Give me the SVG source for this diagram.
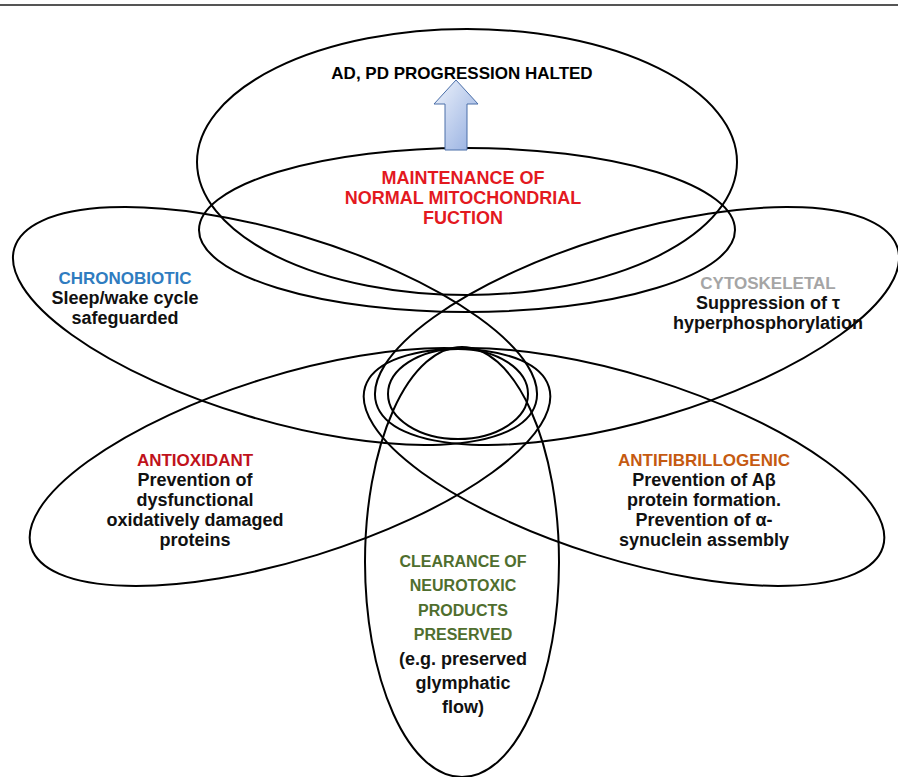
<svg xmlns="http://www.w3.org/2000/svg" width="898" height="777" viewBox="0 0 898 777">
<style>
.e{fill:none;stroke:#000;stroke-width:2}
text{font-family:"Liberation Sans",Arial,sans-serif;font-weight:bold;text-anchor:middle}
.t{font-size:17px}
.b{font-size:18px;fill:#111}
.mito{font-size:18px;fill:#e3191f}
.chr{fill:#2f7cc0}
.cyt{fill:#a5a5a5}
.aox{fill:#c0121b}
.afb{fill:#c55a11}
.clr{font-size:16px;fill:#4f6e2e}
</style>
<defs>
<linearGradient id="ag" x1="0" y1="0" x2="1" y2="1">
<stop offset="0" stop-color="#eef3fb"/>
<stop offset="1" stop-color="#93ade0"/>
</linearGradient>
</defs>
<rect width="898" height="777" fill="#fff"/>
<line x1="0" y1="5" x2="898" y2="5" stroke="#555" stroke-width="2"/>

<g id="node-outcome">
<ellipse class="e" cx="467" cy="162" rx="270" ry="133"/>
<text class="t" x="462" y="79">AD, PD PROGRESSION HALTED</text>
</g>
<g id="node-mitochondrial">
<ellipse class="e" cx="467" cy="230" rx="268" ry="82"/>
<text class="mito" x="463" y="184">MAINTENANCE OF</text>
<text class="mito" x="463" y="204">NORMAL MITOCHONDRIAL</text>
<text class="mito" x="463" y="224">FUCTION</text>
</g>
<g id="node-chronobiotic">
<ellipse class="e" cx="275" cy="326" rx="272" ry="94" transform="rotate(16.6 275 326)"/>
<text class="t chr" x="125" y="284">CHRONOBIOTIC</text>
<text class="b" x="125" y="304">Sleep/wake cycle</text>
<text class="b" x="125" y="324">safeguarded</text>
</g>
<g id="node-cytoskeletal">
<ellipse class="e" cx="637" cy="326" rx="272" ry="94" transform="rotate(-16.6 637 326)"/>
<text class="t cyt" x="768" y="289">CYTOSKELETAL</text>
<text class="b" x="768" y="309">Suppression of τ</text>
<text class="b" x="768" y="329">hyperphosphorylation</text>
</g>
<g id="node-antioxidant">
<ellipse class="e" cx="290" cy="467" rx="271" ry="92" transform="rotate(-17.2 290 467)"/>
<text class="t aox" x="195" y="466">ANTIOXIDANT</text>
<text class="b" x="195" y="486">Prevention of</text>
<text class="b" x="195" y="506">dysfunctional</text>
<text class="b" x="195" y="526">oxidatively damaged</text>
<text class="b" x="195" y="546">proteins</text>
</g>
<g id="node-antifibrillogenic">
<ellipse class="e" cx="624" cy="467" rx="271" ry="92" transform="rotate(17.2 624 467)"/>
<text class="t afb" x="704" y="466">ANTIFIBRILLOGENIC</text>
<text class="b" x="704" y="486">Prevention of Aβ</text>
<text class="b" x="704" y="506">protein formation.</text>
<text class="b" x="704" y="526">Prevention of α-</text>
<text class="b" x="704" y="546">synuclein assembly</text>
</g>
<g id="node-center">
<ellipse class="e" cx="458" cy="394" rx="70" ry="45"/>
</g>
<g id="node-clearance">
<ellipse class="e" cx="462" cy="562" rx="97" ry="215"/>
<text class="clr" x="463" y="567">CLEARANCE OF</text>
<text class="clr" x="463" y="591">NEUROTOXIC</text>
<text class="clr" x="463" y="616">PRODUCTS</text>
<text class="clr" x="463" y="640">PRESERVED</text>
<text class="b" x="463" y="665">(e.g. preserved</text>
<text class="b" x="463" y="689">glymphatic</text>
<text class="b" x="463" y="713">flow)</text>
</g>
<g id="connectors">
<polygon points="456,80 478,104 467,104 467,150 445,150 445,104 434,104" fill="url(#ag)" stroke="#4a6ea8" stroke-width="1"/>
</g>
</svg>
